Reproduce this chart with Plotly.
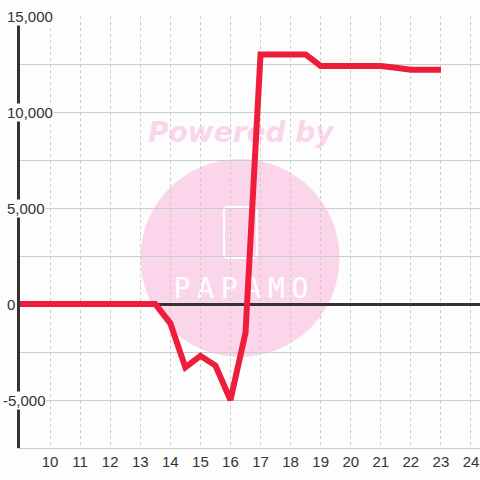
import plotly.graph_objects as go

# half-hour steps
hours = [9, 9.5, 10, 10.5, 11, 11.5, 12, 12.5, 13, 13.5, 14, 14.5, 15, 15.5,
         16, 16.5, 17, 17.5, 18, 18.5, 19, 19.5, 20, 20.5, 21, 21.5, 22, 22.5, 23]
values = [0, 0, 0, 0, 0, 0, 0, 0, 0, 0, -1000, -3300, -2700, -3200,
          -5000, -1500, 13000, 13000, 13000, 13000, 12400, 12400, 12400, 12400,
          12400, 12300, 12200, 12200, 12200]

x_ticks = list(range(10, 25))
y_grid = list(range(-7500, 15001, 2500))
y_labels = [15000, 10000, 5000, 0, -5000]

BG = "#fdfdfd"
PINK = "#fbd6eb"
INK = "#333333"

fig = go.Figure(go.Scatter(
    x=hours, y=values, mode="lines",
    line=dict(color="#ee1e3a", width=6),
    hoverinfo="skip", cliponaxis=False,
))

# "Powered by" watermark, kept under the grid
fig.add_shape(type="circle", xref="paper", yref="paper",
              x0=0.262, x1=0.6946, y0=0.2106, y1=0.669,
              fillcolor=PINK, line_width=0, layer="below")
# rounded logo frame
x0, x1, y0, y1, rx, ry = 0.4435, 0.515, 0.4398, 0.558, 0.009, 0.0095
frame = (f"M {x0+rx},{y0} L {x1-rx},{y0} Q {x1},{y0} {x1},{y0+ry} "
         f"L {x1},{y1-ry} Q {x1},{y1} {x1-rx},{y1} L {x0+rx},{y1} "
         f"Q {x0},{y1} {x0},{y1-ry} L {x0},{y0+ry} Q {x0},{y0} {x0+rx},{y0} Z")
fig.add_shape(type="path", xref="paper", yref="paper", path=frame,
              line=dict(color="white", width=2), layer="below")
fig.add_shape(type="rect", xref="paper", yref="paper",
              x0=0.28, x1=0.68, y0=0.69, y1=0.78, line_width=0, layer="below",
              label=dict(text="Powered by",
                         font=dict(family="DejaVu Sans", size=28, color=PINK,
                                   weight="bold", style="italic")))
for i, ch in enumerate("PAPAMO"):
    cx = (182 + 23.6 * i - 20) / 460
    fig.add_shape(type="rect", xref="paper", yref="paper",
                  x0=cx - 0.03, x1=cx + 0.03, y0=0.33, y1=0.42,
                  line_width=0, layer="below",
                  label=dict(text=ch, font=dict(family="DejaVu Sans Mono",
                                                size=28, color="white")))

for v in y_labels:
    fig.add_annotation(
        x=0, xref="paper", y=v, yref="y",
        text=f"{v:,}", showarrow=False,
        xanchor="left", yanchor="middle",
        xshift=-18 if v < 0 else -14,
        bgcolor=BG, borderpad=0,
        font=dict(family="Liberation Sans", size=15, color=INK),
    )

fig.update_xaxes(
    range=[9, 24.3], tickvals=x_ticks, automargin=False,
    showgrid=True, gridcolor="#cccccc", gridwidth=1, griddash="dot",
    showline=True, linecolor="#cccccc", linewidth=1,
    zeroline=False, ticks="",
    tickfont=dict(family="Liberation Sans", size=15, color=INK),
)
fig.update_yaxes(
    range=[-7500, 15000], tickvals=y_grid, showticklabels=False, automargin=False,
    showgrid=True, gridcolor="#cccccc", gridwidth=1,
    zeroline=True, zerolinecolor=INK, zerolinewidth=3,
    showline=True, linecolor=INK, linewidth=3, ticks="",
)

fig.update_layout(
    width=480, height=480,
    margin=dict(l=20, r=0, t=16, b=32),
    paper_bgcolor=BG, plot_bgcolor=BG,
    showlegend=False,
)

# page body has an 8px margin by default
fig.write_html("out.html", config={"displayModeBar": False},
               post_script="document.body.style.margin='0';")
